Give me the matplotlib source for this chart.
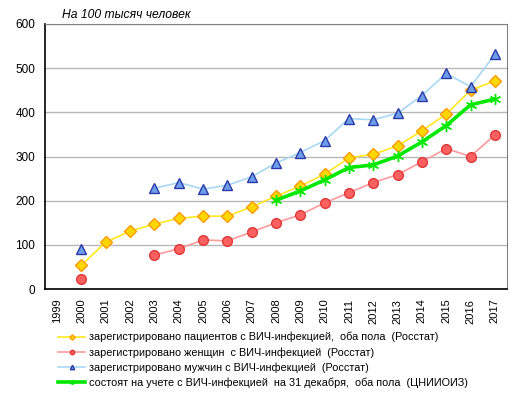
import numpy as np
import matplotlib
matplotlib.use("Agg")
import matplotlib.pyplot as plt

plt.rcParams['font.family'] = ['Liberation Sans', 'DejaVu Sans']

years = [str(y) for y in range(1999, 2018)]
nan = np.nan
total = [nan, 54, 106, 131, 147, 160, 165, 165, 186, 210, 233, 260, 297, 305, 324, 358, 396, 450, 471]
women = [nan, 23, nan, nan, 77, 91, 111, 109, 129, 150, 168, 195, 218, 241, 259, 288, 318, 300, 349]
men = [nan, 90, nan, nan, 228, 241, 226, 235, 254, 285, 309, 336, 386, 383, 398, 438, 488, 458, 531]
registry = [nan, nan, nan, nan, nan, nan, nan, nan, nan, 201, 222, 247, 275, 281, 301, 333, 370, 417, 430]

labels = [
    "зарегистрировано пациентов с ВИЧ-инфекцией,  оба пола  (Росстат)",
    "зарегистрировано женщин  с ВИЧ-инфекцией  (Росстат)",
    "зарегистрировано мужчин с ВИЧ-инфекцией  (Росстат)",
    "состоят на учете с ВИЧ-инфекцией  на 31 декабря,  оба пола  (ЦНИИОИЗ)",
]
title = "На 100 тысяч человек"

fig = plt.figure(figsize=(5.21, 3.96), dpi=100)
ax = fig.add_axes([45/521, 1-289/396, (507-45)/521, (289-24)/396])

x = np.arange(len(years))

l1, = ax.plot(x, total, color='#FFE820', lw=1.2, marker='D', ms=6, mfc='#FFD700', mec='#FF9900', mew=1, label=labels[0])
l2, = ax.plot(x, women, color='#FF9A9A', lw=1.2, marker='o', ms=7, mfc='#FF6060', mec='#E03838', mew=1, label=labels[1])
l3, = ax.plot(x, men, color='#A8D8F4', lw=1.2, marker='^', ms=7, mfc='#6E9EEA', mec='#2A3AA8', mew=1, label=labels[2])
l4, = ax.plot(x, registry, color='#00E800', lw=2.6, marker=(6, 2, 0), ms=8, mfc='#00E800', mec='#00E800', mew=1, label=labels[3])

ax.set_xlim(-0.5, len(years)-0.5)
ax.set_ylim(0, 600)
ax.set_yticks(range(0, 601, 100))
ax.set_xticks(x)
ax.set_xticklabels(years, rotation=90, fontsize=8)
ax.tick_params(axis='y', labelsize=8.5, length=0, pad=7)
ax.tick_params(axis='x', length=0, pad=7)
ax.yaxis.grid(True, color='#B8B8B8', lw=1)
ax.set_axisbelow(True)
for s in ['top', 'right']:
    ax.spines[s].set_color('#808080')
for s in ['left', 'bottom']:
    ax.spines[s].set_color('black')
    ax.spines[s].set_linewidth(1.2)

fig.text(62/521, 1-15/396, title, fontsize=8.7, style='italic', va='center', ha='left')

leg = fig.legend(handles=[l1, l2, l3, l4], loc='upper left', bbox_to_anchor=(58/521, 1-332/396),
                 frameon=False, fontsize=7.8, handlelength=2.5, handletextpad=0.35,
                 labelspacing=0.42, markerscale=0.45, borderaxespad=0, borderpad=0)

fig.savefig('out.png', dpi=100)
